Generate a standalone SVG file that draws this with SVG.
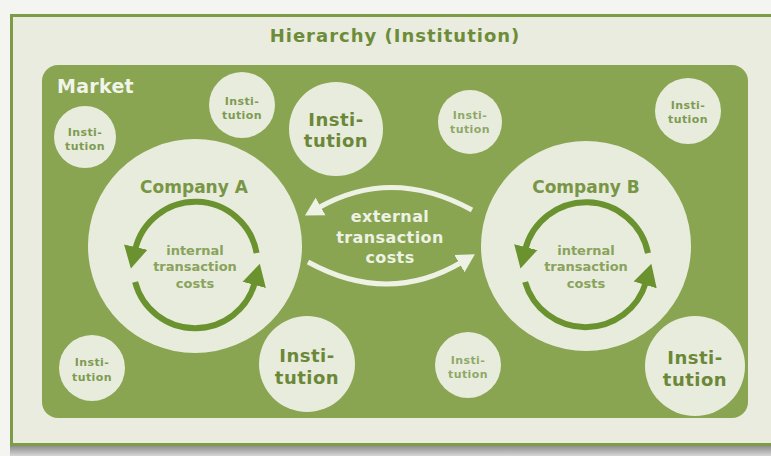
<svg xmlns="http://www.w3.org/2000/svg" width="771" height="456" viewBox="0 0 771 456">
  <defs>
    <linearGradient id="shadow" x1="0" y1="0" x2="0" y2="1">
      <stop offset="0" stop-color="#8e8e8e"/>
      <stop offset="1" stop-color="#d6d6d6"/>
    </linearGradient>
    <marker id="headDark" markerUnits="userSpaceOnUse" markerWidth="26" markerHeight="26" refX="3" refY="13" orient="auto">
      <path d="M0,1 L22,13 L0,25 z" fill="#6a922e"/>
    </marker>
    <marker id="headLight" markerUnits="userSpaceOnUse" markerWidth="22" markerHeight="22" refX="3" refY="11" orient="auto">
      <path d="M0,1 L18,11 L0,21 z" fill="#eef2e5"/>
    </marker>
    <style>
      .bubble { fill: #e8ecdd; }
      .lbl { font-family: "DejaVu Sans", Verdana, sans-serif; font-weight: bold; text-anchor: middle; }
      .small { font-size: 11px; fill: #7f9b52; letter-spacing: 0.4px; }
      .big { font-size: 18px; fill: #6b8838; letter-spacing: 0.5px; }
      .company { font-size: 17px; fill: #789645; }
      .internal { font-size: 13px; fill: #89a35c; }
      .external { font-size: 16px; fill: #eef2e5; letter-spacing: 0.4px; }
      .cycle { fill: none; stroke: #6a922e; stroke-width: 6; marker-end: url(#headDark); }
      .exchange { fill: none; stroke: #eef2e5; stroke-width: 5; marker-end: url(#headLight); }
    </style>
  </defs>

  <!-- page -->
  <rect x="0" y="0" width="771" height="456" fill="#f4f4f1"/>
  <rect x="10" y="446" width="761" height="10" fill="url(#shadow)"/>

  <!-- hierarchy frame -->
  <g id="hierarchy">
    <rect x="11.5" y="15.5" width="790" height="429" fill="#e9ecdf" stroke="#7e9c48" stroke-width="3"/>
    <text class="lbl" x="395" y="42" font-size="18" fill="#6d8c39" letter-spacing="1">Hierarchy (Institution)</text>
  </g>

  <!-- market area -->
  <g id="market">
    <rect x="42" y="65" width="706" height="353" rx="16" fill="#89a552"/>
    <text class="lbl" x="57" y="93" font-size="19" fill="#f1f4e9" style="text-anchor:start" letter-spacing="0.3">Market</text>
  </g>

  <!-- institutions -->
  <g id="inst-1">
    <circle class="bubble" cx="85" cy="137" r="31"/>
    <text class="lbl small" x="85" y="136">Insti-</text>
    <text class="lbl small" x="85" y="150">tution</text>
  </g>
  <g id="inst-2">
    <circle class="bubble" cx="242" cy="105" r="33"/>
    <text class="lbl small" x="242" y="105">Insti-</text>
    <text class="lbl small" x="242" y="119">tution</text>
  </g>
  <g id="inst-3">
    <circle class="bubble" cx="336" cy="129" r="47"/>
    <text class="lbl big" x="336" y="126">Insti-</text>
    <text class="lbl big" x="336" y="147">tution</text>
  </g>
  <g id="inst-4">
    <circle class="bubble" cx="470" cy="122" r="32"/>
    <text class="lbl small" x="470" y="119" fill-opacity="0.85">Insti-</text>
    <text class="lbl small" x="470" y="133" fill-opacity="0.85">tution</text>
  </g>
  <g id="inst-5">
    <circle class="bubble" cx="688" cy="111" r="33"/>
    <text class="lbl small" x="688" y="109">Insti-</text>
    <text class="lbl small" x="688" y="123">tution</text>
  </g>
  <g id="inst-6">
    <circle class="bubble" cx="92" cy="368" r="33"/>
    <text class="lbl small" x="92" y="366">Insti-</text>
    <text class="lbl small" x="92" y="381">tution</text>
  </g>
  <g id="inst-7">
    <circle class="bubble" cx="307" cy="364" r="48"/>
    <text class="lbl big" x="307" y="362">Insti-</text>
    <text class="lbl big" x="307" y="384">tution</text>
  </g>
  <g id="inst-8">
    <circle class="bubble" cx="468" cy="365" r="33"/>
    <text class="lbl small" x="468" y="364" fill-opacity="0.85">Insti-</text>
    <text class="lbl small" x="468" y="378" fill-opacity="0.85">tution</text>
  </g>
  <g id="inst-9">
    <circle class="bubble" cx="695" cy="366" r="50"/>
    <text class="lbl big" x="695" y="364">Insti-</text>
    <text class="lbl big" x="695" y="386">tution</text>
  </g>

  <!-- companies -->
  <g id="company-a">
    <circle class="bubble" cx="195" cy="246" r="107"/>
    <text class="lbl company" x="194" y="193">Company A</text>
    <text class="lbl internal" x="195" y="255">internal</text>
    <text class="lbl internal" x="195" y="271">transaction</text>
    <text class="lbl internal" x="195" y="288">costs</text>
  </g>
  <g id="company-b">
    <circle class="bubble" cx="586" cy="246" r="105"/>
    <text class="lbl company" x="586" y="193">Company B</text>
    <text class="lbl internal" x="586" y="255">internal</text>
    <text class="lbl internal" x="586" y="271">transaction</text>
    <text class="lbl internal" x="586" y="288">costs</text>
  </g>

  <!-- connectors -->
  <g id="connectors">
    <!-- internal cycles -->
    <path class="cycle" d="M256.6,253.1 A62,62 0 0 0 135.1,250"/>
    <path class="cycle" d="M135.1,282 A62,62 0 0 0 255,282"/>
    <path class="cycle" d="M648,253.1 A63,63 0 0 0 525.1,250"/>
    <path class="cycle" d="M525.1,282 A63,63 0 0 0 646,282"/>
    <!-- external exchange between companies -->
    <path class="exchange" d="M472,210 Q392,166 318,208"/>
    <path class="exchange" d="M308,262 Q388,306 462,262"/>
    <text class="lbl external" x="390" y="222">external</text>
    <text class="lbl external" x="390" y="243">transaction</text>
    <text class="lbl external" x="390" y="263">costs</text>
  </g>
</svg>
